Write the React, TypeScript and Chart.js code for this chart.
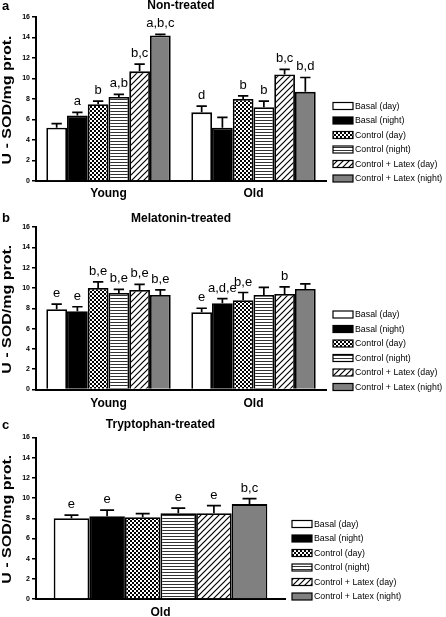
import React, { useEffect, useRef } from "react";
import { Chart, registerables } from "chart.js";
Chart.register(...registerables);

// ---------- data ----------
const seriesLabels = [
  "Basal (day)",
  "Basal (night)",
  "Control (day)",
  "Control (night)",
  "Control + Latex (day)",
  "Control + Latex (night)",
];
const groupsYoungOld = ["Young", "Old"];
const groupsOld = ["Old"];
const yAxisTitle = "U - SOD/mg prot.";

// a: Non-treated
const nonYoungMeans = [5.2, 6.4, 7.5, 8.2, 10.7, 14.2];
const nonYoungErrs = [0.4, 0.3, 0.3, 0.25, 0.7, 0.1];
const nonYoungLetters = ["", "a", "b", "a,b", "b,c", "a,b,c"];
const nonOldMeans = [6.7, 5.2, 8.0, 7.2, 10.4, 8.7];
const nonOldErrs = [0.6, 1.0, 0.3, 0.6, 0.5, 1.4];
const nonOldLetters = ["d", "", "b", "b", "b,c", "b,d"];

// b: Melatonin-treated
const melYoungMeans = [7.9, 7.7, 10.0, 9.5, 9.8, 9.3];
const melYoungErrs = [0.5, 0.45, 0.6, 0.35, 0.55, 0.5];
const melYoungLetters = ["e", "e", "b,e", "b,e", "b,e", "b,e"];
const melOldMeans = [7.6, 8.5, 8.8, 9.3, 9.4, 9.9];
const melOldErrs = [0.4, 0.45, 0.75, 0.75, 0.7, 0.5];
const melOldLetters = ["e", "a,d,e", "b,e", "", "b", ""];

// c: Tryptophan-treated
const tryOldMeans = [8.0, 8.2, 8.1, 8.5, 8.5, 9.4];
const tryOldErrs = [0.3, 0.6, 0.35, 0.5, 0.75, 0.55];
const tryOldLetters = ["e", "e", "", "e", "e", "b,c"];

// ---------- styling ----------
const FONT = '"Liberation Sans", Arial, Helvetica, sans-serif';

const panels = [
  {
    letter: "a",
    title: "Non-treated",
    groups: groupsYoungOld,
    means: [nonYoungMeans, nonOldMeans],
    errs: [nonYoungErrs, nonOldErrs],
    letters: [nonYoungLetters, nonOldLetters],
    top: 0,
    height: 205,
    areaTop: 17,
    axisH: 24,
    right: 326,
    titleY: 5.5,
    letterY: 10,
    xPad: 5,
  },
  {
    letter: "b",
    title: "Melatonin-treated",
    groups: groupsYoungOld,
    means: [melYoungMeans, melOldMeans],
    errs: [melYoungErrs, melOldErrs],
    letters: [melYoungLetters, melOldLetters],
    top: 205,
    height: 205,
    areaTop: 22,
    axisH: 20.5,
    right: 326,
    titleY: 14,
    letterY: 16.7,
    xPad: 7,
  },
  {
    letter: "c",
    title: "Tryptophan-treated",
    groups: groupsOld,
    means: [tryOldMeans],
    errs: [tryOldErrs],
    letters: [tryOldLetters],
    top: 410,
    height: 207,
    areaTop: 27.5,
    axisH: 18,
    right: 285,
    titleY: 15,
    letterY: 18.5,
    xPad: 6,
  },
];

function makeFills(): (string | CanvasPattern)[] {
  const mk = (w: number, h: number, draw: (c: CanvasRenderingContext2D) => void) => {
    const cv = document.createElement("canvas");
    cv.width = w;
    cv.height = h;
    const c = cv.getContext("2d")!;
    c.fillStyle = "#fff";
    c.fillRect(0, 0, w, h);
    draw(c);
    return c.createPattern(cv, "repeat")!;
  };
  const checker = mk(4, 4, (c) => {
    c.fillStyle = "#000";
    c.fillRect(0, 0, 2, 2);
    c.fillRect(2, 2, 2, 2);
  });
  const hstripe = mk(4, 3, (c) => {
    c.fillStyle = "#333";
    c.fillRect(0, 0, 4, 1);
  });
  const diag = mk(6, 6, (c) => {
    c.strokeStyle = "#000";
    c.lineWidth = 1.2;
    c.beginPath();
    c.moveTo(0, 6);
    c.lineTo(6, 0);
    c.moveTo(-1, 1);
    c.lineTo(1, -1);
    c.moveTo(5, 7);
    c.lineTo(7, 5);
    c.stroke();
  });
  return ["#ffffff", "#000000", checker, hstripe, diag, "#808080"];
}

function makeDecor(p: any) {
  return {
    id: "decor",
    afterDatasetsDraw(chart: any) {
      const ctx = chart.ctx;
      const ys = chart.scales.y;
      ctx.save();
      chart.data.datasets.forEach((ds: any, di: number) => {
        const meta = chart.getDatasetMeta(di);
        meta.data.forEach((bar: any, i: number) => {
          const v = ds.data[i];
          const e = ds.errs[i];
          const yTop = ys.getPixelForValue(v + e);
          const half = Math.min(7, bar.width * 0.25);
          ctx.strokeStyle = "#000";
          ctx.lineWidth = 1.7;
          ctx.beginPath();
          ctx.moveTo(bar.x, bar.y);
          ctx.lineTo(bar.x, yTop);
          ctx.moveTo(bar.x - half, yTop);
          ctx.lineTo(bar.x + half, yTop);
          ctx.stroke();
          const lab = ds.lets[i];
          if (lab) {
            ctx.fillStyle = "#000";
            ctx.font = `13px ${FONT}`;
            ctx.textAlign = "center";
            ctx.textBaseline = "alphabetic";
            ctx.fillText(lab, bar.x, yTop - 7);
          }
        });
      });
      ctx.restore();
    },
    afterDraw(chart: any) {
      const ctx = chart.ctx;
      const area = chart.chartArea;
      ctx.save();
      // panel letter
      ctx.fillStyle = "#000";
      ctx.font = `bold 13px ${FONT}`;
      ctx.textAlign = "left";
      ctx.textBaseline = "alphabetic";
      ctx.fillText(p.letter, 2, p.letterY);
      // title
      ctx.font = `bold 12px ${FONT}`;
      ctx.textAlign = "center";
      ctx.textBaseline = "middle";
      ctx.fillText(p.title, (area.left + area.right) / 2, p.titleY);
      // y axis title
      ctx.save();
      ctx.translate(11, (area.top + area.bottom) / 2 + 1);
      ctx.rotate(-Math.PI / 2);
      ctx.font = `bold 12px ${FONT}`;
      const w = ctx.measureText(yAxisTitle).width;
      ctx.scale(129 / w, 1);
      ctx.textAlign = "center";
      ctx.textBaseline = "alphabetic";
      ctx.fillText(yAxisTitle, 0, 0);
      ctx.restore();
      // legend
      const n = chart.data.datasets.length;
      const step = 14.5;
      const bx = area.right + 7;
      chart.data.datasets.forEach((ds: any, di: number) => {
        const cy = area.bottom - 2.5 - (n - 1 - di) * step;
        ctx.fillStyle = ds.backgroundColor;
        ctx.fillRect(bx, cy - 3.5, 20, 7);
        ctx.strokeStyle = "#000";
        ctx.lineWidth = 1.2;
        ctx.strokeRect(bx, cy - 3.5, 20, 7);
        ctx.fillStyle = "#000";
        ctx.font = `8.8px ${FONT}`;
        ctx.textAlign = "left";
        ctx.textBaseline = "middle";
        ctx.fillText(ds.label, bx + 22, cy + 0.5);
      });
      ctx.restore();
    },
  };
}

function Panel({ p }: { p: any }) {
  const ref = useRef<HTMLCanvasElement | null>(null);
  useEffect(() => {
    const fills = makeFills();
    const datasets = seriesLabels.map((label, si) => ({
      label,
      data: p.groups.map((_: string, gi: number) => p.means[gi][si]),
      errs: p.groups.map((_: string, gi: number) => p.errs[gi][si]),
      lets: p.groups.map((_: string, gi: number) => p.letters[gi][si]),
      backgroundColor: fills[si],
      borderColor: "#000",
      borderWidth: 1.8,
      categoryPercentage: 0.858,
      barPercentage: 1,
    }));
    const chart = new Chart(ref.current!, {
      type: "bar",
      data: { labels: p.groups, datasets },
      options: {
        animation: false,
        responsive: false,
        maintainAspectRatio: false,
        layout: { padding: { top: p.areaTop, right: 446 - p.right, left: 0, bottom: 0 } },
        plugins: { legend: { display: false }, tooltip: { enabled: false }, title: { display: false } },
        scales: {
          x: {
            grid: { display: false, drawTicks: false },
            border: { display: true, color: "#000", width: 2 },
            ticks: { color: "#000", font: { family: FONT, size: 12, weight: "bold" }, padding: p.xPad },
            afterFit: (s: any) => {
              s.height = p.axisH;
            },
          },
          y: {
            min: 0,
            max: 16,
            ticks: { stepSize: 2, color: "#000", font: { family: FONT, size: 7, weight: "bold" }, padding: 2 },
            grid: { display: true, drawOnChartArea: false, drawTicks: true, tickLength: 4, color: "#000", lineWidth: 1.5 },
            border: { display: true, color: "#000", width: 2 },
            afterFit: (s: any) => {
              s.width = 36;
            },
          },
        },
      } as any,
      plugins: [makeDecor(p)],
    });
    return () => chart.destroy();
  }, [p]);
  return (
    <canvas
      ref={ref}
      width={446}
      height={p.height}
      style={{ position: "absolute", left: 0, top: p.top, width: 446, height: p.height }}
    />
  );
}

export default function App() {
  return (
    <div style={{ position: "fixed", left: 0, top: 0, width: 446, height: 617, background: "#fff" }}>
      {panels.map((p) => (
        <Panel key={p.letter} p={p} />
      ))}
    </div>
  );
}
